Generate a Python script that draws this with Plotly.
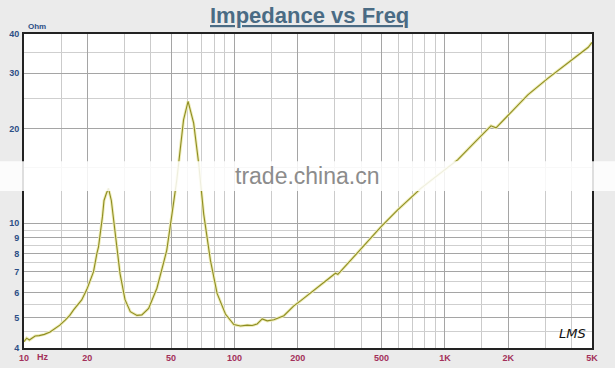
import plotly.graph_objects as go

# ---- data ----
freq_hz = [10.0, 10.3, 10.6, 11.0, 11.3, 11.8, 12.5, 13.3, 14.05, 14.8, 15.7, 16.5, 17.2, 18.0,
           18.8, 19.9, 21.4, 22.2, 22.6, 23.6, 24.0, 24.6, 25.2, 26.0, 27.1, 28.6, 30.2, 32.0,
           34.4, 36.3, 39.1, 42.8, 46.0, 47.7, 50.5, 53.2, 57.3, 60.2, 64.0, 67.6, 71.4,
           76.9, 82.7, 90.6, 99.3, 106.8, 115.0, 121.4, 128.2, 135.5, 143.2, 153.8, 171.7,
           191.5, 206.0, 250.0, 302.0, 310.0, 331.0, 413.0, 495.0, 595.0, 685.0, 769.0,
           900.0, 1000.0, 1149.0, 1400.0, 1580.0, 1656.0, 1750.0, 1850.0, 2063.0, 2478.0,
           3083.0, 3839.0, 4400.0, 4603.0, 4800.0, 5000.0]
impedance_ohm = [4.19, 4.30, 4.24, 4.33, 4.37, 4.38, 4.42, 4.50, 4.62, 4.73, 4.91, 5.08, 5.29, 5.48,
                 5.69, 6.15, 7.0, 8.0, 8.4, 10.5, 11.8, 12.4, 12.9, 11.8, 9.5, 6.9, 5.7, 5.22,
                 5.08, 5.1, 5.35, 6.2, 7.45, 8.2, 10.7, 13.7, 21.3, 24.4, 20.8, 15.5, 10.7,
                 7.6, 5.97, 5.13, 4.75, 4.70, 4.73, 4.72, 4.77, 4.95, 4.88, 4.92, 5.07,
                 5.45, 5.65, 6.25, 6.92, 6.86, 7.2, 8.5, 9.7, 11.0, 12.0, 12.9,
                 14.0, 14.8, 15.9, 18.2, 19.7, 20.4, 20.1, 20.9, 22.6, 25.6,
                 28.9, 32.3, 34.6, 35.6, 36.3, 37.6]

x_major = [10, 20, 50, 100, 200, 500, 1000, 2000, 5000]
x_labels = ["10", "20", "50", "100", "200", "500", "1K", "2K", "5K"]
x_minor = [15, 30, 40, 60, 70, 80, 90, 150, 300, 400, 600, 700, 800, 900,
           1500, 3000, 4000]
y_major = [4, 5, 6, 7, 8, 9, 10, 20, 30, 40]
y_labels = ["4", "5", "6", "7", "8", "9", "10", "20", "30", "40"]
y_minor = [4.5, 5.5, 6.5, 7.5, 8.5, 9.5, 15, 25, 35]

LINE = "#8e8d22"
XLAB = "#a3305a"
YLAB = "#2d4f86"

fig = go.Figure()
fig.add_trace(go.Scatter(x=freq_hz, y=impedance_ohm, mode="lines",
                         line=dict(color="#eeecb8", width=3), hoverinfo="skip",
                         showlegend=False))
fig.add_trace(go.Scatter(x=freq_hz, y=impedance_ohm, mode="lines",
                         line=dict(color=LINE, width=1.1), showlegend=False))

fig.update_xaxes(type="log", range=[1, 3.69897], tickvals=x_major, ticktext=x_labels,
                 showgrid=True, gridcolor="#a5a5a5", gridwidth=1,
                 minor=dict(tickvals=x_minor, showgrid=True, gridcolor="#cbcbcb", ticklen=0),
                 ticks="", showline=True, mirror=True, linecolor="#222222", linewidth=2,
                 tickfont=dict(family="Arial, Liberation Sans", size=9, color=XLAB, weight="bold"),
                 zeroline=False, automargin=False)
fig.update_yaxes(type="log", range=[0.60206, 1.60206], tickvals=y_major, ticktext=y_labels,
                 showgrid=True, gridcolor="#a5a5a5", gridwidth=1,
                 minor=dict(tickvals=y_minor, showgrid=True, gridcolor="#cfcfcf", ticklen=0),
                 ticks="", showline=True, mirror=True, linecolor="#222222", linewidth=2,
                 tickfont=dict(family="Arial, Liberation Sans", size=9, color=YLAB, weight="bold"),
                 ticklabelstandoff=1, zeroline=False, automargin=False)

# watermark band
fig.add_shape(type="rect", xref="paper", yref="paper", x0=-0.05, x1=1.05,
              y0=0.50, y1=0.595, fillcolor="rgba(255,255,255,0.85)", line=dict(width=0),
              layer="above")
fig.add_annotation(text="trade.china.cn", xref="paper", yref="paper", x=0.498, y=0.548,
                   showarrow=False, font=dict(family="Arial, Liberation Sans", size=23,
                                              color="#8c8c8c"))

fig.add_annotation(text="<b><u>Impedance vs Freq</u></b>", xref="paper", yref="paper",
                   x=0.502, y=1.0, yshift=19, yanchor="middle", showarrow=False,
                   font=dict(family="Arial, Liberation Sans", size=22, color="#4a6b84"))
fig.add_annotation(text="<b>Ohm</b>", xref="paper", yref="paper", x=0.004, y=1.0, yshift=1,
                   xanchor="left", yanchor="bottom", showarrow=False,
                   font=dict(family="Arial, Liberation Sans", size=8, color=YLAB))
fig.add_annotation(text="<b>Hz</b>", xref="paper", yref="paper", x=0.02, y=0.0, yshift=-2,
                   xanchor="left", yanchor="top", showarrow=False,
                   font=dict(family="Arial, Liberation Sans", size=9, color=XLAB))
fig.add_annotation(text="<i>LMS</i>", xref="paper", yref="paper", x=0.965, y=0.015,
                   xanchor="center", yanchor="bottom", showarrow=False,
                   font=dict(family="DejaVu Sans", size=13, color="#111111"))

fig.update_layout(width=615, height=368, margin=dict(l=24, r=23, t=34, b=20),
                  paper_bgcolor="#ebebeb", plot_bgcolor="#ffffff", showlegend=False)

fig.write_html("out.html")
